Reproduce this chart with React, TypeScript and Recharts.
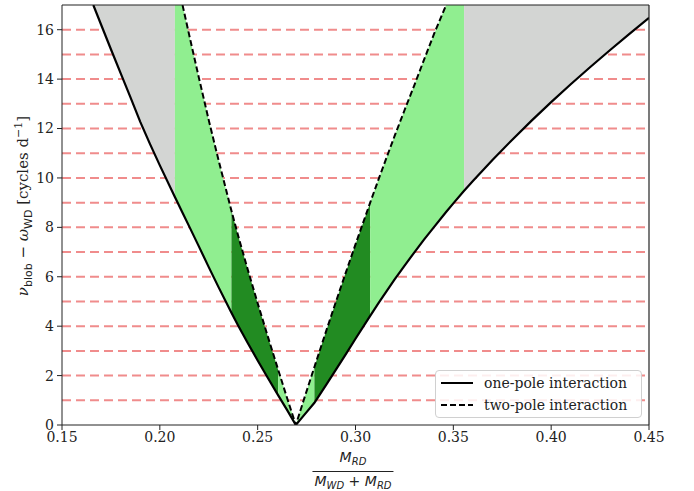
import React from 'react';
import { ComposedChart, Area, Line, XAxis, YAxis, CartesianGrid, ReferenceLine } from 'recharts';

// mass ratio samples
const massRatio = [
  0.166, 0.17, 0.175, 0.18, 0.185, 0.19, 0.195, 0.2, 0.2077, 0.2116, 0.215, 0.22, 0.225, 0.23, 0.2366,
  0.24, 0.245, 0.25, 0.255, 0.2605, 0.265, 0.2695, 0.2735, 0.279, 0.285, 0.29, 0.295, 0.3, 0.3075,
  0.312, 0.316, 0.32, 0.325, 0.33, 0.335, 0.34, 0.3463, 0.35, 0.3555, 0.36, 0.37, 0.38, 0.39, 0.4,
  0.41, 0.42, 0.43, 0.44, 0.45,
];

// one-pole interaction curve (solid)
const onePole = [
  17, 16.2, 15.21, 14.23, 13.26, 12.27, 11.37, 10.51, 9.23, 8.59, 8.04, 7.22, 6.39, 5.58, 4.54,
  4.03, 3.31, 2.61, 1.93, 1.2, 0.61, 0, 0.38, 0.9, 1.62, 2.24, 2.86, 3.49, 4.42,
  4.96, 5.43, 5.89, 6.44, 6.98, 7.5, 8.0, 8.62, 8.97, 9.48, 9.88, 10.73, 11.54, 12.32, 13.07,
  13.79, 14.49, 15.17, 15.83, 16.48,
];

// two-pole interaction curve (dashed), null where it runs off the top
const twoPole = [
  null, null, null, null, null, null, null, null, null, 17, 15.79, 14.04, 12.34, 10.72, 8.67,
  7.67, 6.27, 4.93, 3.63, 2.23, 1.1, 0, 1.0, 2.35, 3.8, 4.99, 6.16, 7.31, 9.0,
  9.99, 10.85, 11.7, 12.73, 13.74, 14.78, 15.8, 17, null, null, null, null, null, null, null,
  null, null, null, null, null,
];

// shaded vertical bands between the two curves
const bandEdges = [0.166, 0.2077, 0.2366, 0.2605, 0.279, 0.3075, 0.3555, 0.45];
const bandColors = ['#d3d5d3', '#90ee90', '#228b22', '#90ee90', '#228b22', '#90ee90', '#d3d5d3'];

const xTicks = [0.15, 0.2, 0.25, 0.3, 0.35, 0.4, 0.45];
const yTicks = [0, 2, 4, 6, 8, 10, 12, 14, 16];
const gridLevels = [1, 2, 3, 4, 5, 6, 7, 8, 9, 10, 11, 12, 13, 14, 15, 16];

const Y_MAX = 17;

const chartData = massRatio.map((x, i) => ({
  x,
  solid: onePole[i],
  dashed: twoPole[i],
  top: twoPole[i] ?? Y_MAX,
}));

const serif = '"DejaVu Serif", "Liberation Serif", serif';
const sans = '"DejaVu Sans", sans-serif';

const App: React.FC = () => {
  return (
    <div style={{ position: 'absolute', left: 0, top: 0, width: 694, height: 491, background: '#fff' }}>
      <ComposedChart
        width={694}
        height={491}
        data={chartData}
        margin={{ top: 5, right: 45, left: 8, bottom: 36 }}
      >
        <CartesianGrid
          vertical={false}
          horizontalValues={gridLevels}
          stroke="#f08c8c"
          strokeWidth={2}
          strokeDasharray="9 5"
        />
        <XAxis
          dataKey="x"
          type="number"
          domain={[0.15, 0.45]}
          ticks={xTicks}
          allowDataOverflow
          tickFormatter={(v: number) => v.toFixed(2)}
          stroke="#222"
          tickSize={5}
          tickMargin={2}
          height={30}
          tick={{ fill: '#222', fontSize: 14, fontFamily: serif }}
        />
        <YAxis
          type="number"
          domain={[0, Y_MAX]}
          ticks={yTicks}
          allowDataOverflow
          stroke="#222"
          tickSize={5}
          tickMargin={3}
          width={54}
          tick={{ fill: '#222', fontSize: 14, fontFamily: serif }}
        />
        {bandColors.map((color, i) => {
          const lo = bandEdges[i] - 1e-9;
          const hi = bandEdges[i + 1] + 1e-9;
          return (
            <Area
              key={'band' + i}
              type="linear"
              dataKey={(d: any) => (d.x >= lo && d.x <= hi ? [d.solid, d.top] : null)}
              fill={color}
              fillOpacity={1}
              stroke="none"
              dot={false}
              activeDot={false}
              isAnimationActive={false}
            />
          );
        })}
        <Line
          type="linear"
          dataKey="solid"
          stroke="#000"
          strokeWidth={2.2}
          dot={false}
          activeDot={false}
          isAnimationActive={false}
        />
        <Line
          type="linear"
          dataKey="dashed"
          stroke="#000"
          strokeWidth={2}
          strokeDasharray="6 3"
          dot={false}
          activeDot={false}
          connectNulls={false}
          isAnimationActive={false}
        />
        <ReferenceLine y={Y_MAX} stroke="#222" strokeWidth={1.2} />
        <ReferenceLine x={0.45} stroke="#222" strokeWidth={1.2} />
      </ComposedChart>

      {/* y-axis label */}
      <div
        style={{
          position: 'absolute',
          left: 23,
          top: 206,
          transform: 'translate(-50%, -50%) rotate(-90deg)',
          whiteSpace: 'nowrap',
          fontFamily: serif,
          fontSize: 15,
          color: '#222',
        }}
      >
        <span style={{ fontStyle: 'italic' }}>ν</span>
        <sub style={{ fontFamily: sans, fontSize: 11 }}>blob</sub>
        {' − '}
        <span style={{ fontStyle: 'italic' }}>ω</span>
        <sub style={{ fontFamily: sans, fontSize: 11 }}>WD</sub>
        {' [cycles d'}
        <sup style={{ fontSize: 11 }}>−1</sup>
        {']'}
      </div>

      {/* x-axis label */}
      <div
        style={{
          position: 'absolute',
          left: 353,
          top: 449,
          transform: 'translateX(-50%)',
          fontFamily: sans,
          fontSize: 14,
          color: '#222',
          textAlign: 'center',
          lineHeight: '16px',
        }}
      >
        <div style={{ borderBottom: '1.2px solid #222', padding: '0 2px 1px' }}>
          <i>M</i>
          <sub style={{ fontSize: 10, fontStyle: 'italic', verticalAlign: '-3px' }}>RD</sub>
        </div>
        <div style={{ padding: '1px 2px 0', whiteSpace: 'nowrap' }}>
          <i>M</i>
          <sub style={{ fontSize: 10, fontStyle: 'italic', verticalAlign: '-3px' }}>WD</sub>
          {' + '}
          <i>M</i>
          <sub style={{ fontSize: 10, fontStyle: 'italic', verticalAlign: '-3px' }}>RD</sub>
        </div>
      </div>

      {/* legend */}
      <div
        style={{
          position: 'absolute',
          left: 435,
          top: 370,
          width: 207,
          height: 48,
          boxSizing: 'border-box',
          border: '1px solid #d0d0d0',
          borderRadius: 4,
          background: 'rgba(255,255,255,0.85)',
          fontFamily: serif,
          fontSize: 14,
          color: '#222',
        }}
      >
        {[
          { label: 'one-pole interaction', dash: undefined, top: 1 },
          { label: 'two-pole interaction', dash: '6 3', top: 23 },
        ].map((row) => (
          <div
            key={row.label}
            style={{ position: 'absolute', left: 4, top: row.top, height: 22, display: 'flex', alignItems: 'center' }}
          >
            <svg width={34} height={22}>
              <line x1={1} y1={11} x2={33} y2={11} stroke="#000" strokeWidth={2} strokeDasharray={row.dash} />
            </svg>
            <span style={{ marginLeft: 10, whiteSpace: 'nowrap' }}>{row.label}</span>
          </div>
        ))}
      </div>
    </div>
  );
};

export default App;
